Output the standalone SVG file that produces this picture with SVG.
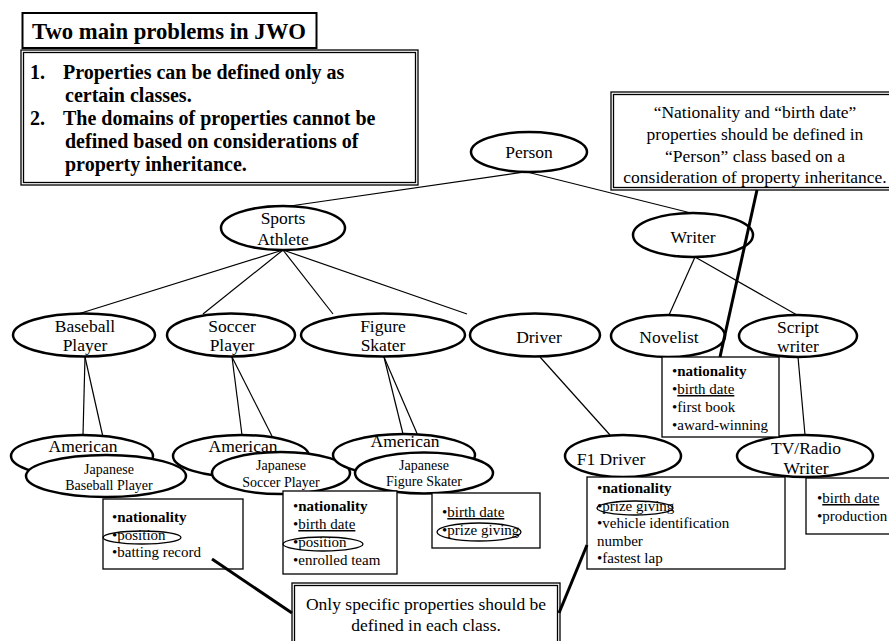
<svg xmlns="http://www.w3.org/2000/svg" width="889" height="641" viewBox="0 0 889 641">
<style>
text{font-family:"Liberation Serif","Times New Roman",serif;fill:#000}
.node{fill:#fff;stroke:#000;stroke-width:2.5}
.lbl{font-size:17.5px;text-anchor:middle}
.sm{font-size:14px;text-anchor:middle}
.edge{stroke:#000;stroke-width:1.2;fill:none}
.call{stroke:#000;stroke-width:3;fill:none}
.box{fill:#fff;stroke:#000;stroke-width:1.3}
.prop{font-size:15px}
.mark{fill:none;stroke:#000;stroke-width:1.3}
.dbl{fill:#fff;stroke:#000;stroke-width:1.3}
.dbli{fill:none;stroke:#000;stroke-width:1.3}
.b{font-weight:bold}
.u{text-decoration:underline}
.note{font-size:17.5px;text-anchor:middle}
</style>
<rect width="889" height="641" fill="#fff"/>

<g id="title">
<rect x="22.5" y="13" width="294" height="35" fill="#fff" stroke="#000" stroke-width="2"/>
<text x="32" y="39" font-size="22.7" font-weight="bold">Two main problems in JWO</text>
</g>

<g id="problems">
<rect class="dbl" x="21" y="50" width="397" height="135"/>
<rect class="dbli" x="23.5" y="52.5" width="392" height="130"/>
<text font-size="20" font-weight="bold">
<tspan x="30" y="79">1.</tspan><tspan x="63" y="79">Properties can be defined only as</tspan>
<tspan x="65" y="102">certain classes.</tspan>
<tspan x="30" y="125">2.</tspan><tspan x="63" y="125">The domains of properties cannot be</tspan>
<tspan x="65" y="148">defined based on  considerations of</tspan>
<tspan x="65" y="171">property inheritance.</tspan>
</text>
</g>

<g id="note-person">
<rect class="dbl" x="611" y="92" width="290" height="98"/>
<rect class="dbli" x="613.5" y="94.5" width="290" height="93"/>
<text class="note" x="755" y="118">“Nationality and “birth date”</text>
<text class="note" x="755" y="140">properties should be defined in</text>
<text class="note" x="755" y="162">“Person” class based on a</text>
<text class="note" x="755" y="183">consideration of property inheritance.</text>
</g>

<g id="note-specific">
<rect class="dbl" x="292" y="583" width="268" height="70"/>
<rect class="dbli" x="294.5" y="585.5" width="263" height="65"/>
<text class="note" x="426" y="610">Only specific properties should be</text>
<text class="note" x="426" y="631">defined in each class.</text>
</g>

<g id="connectors">
<line class="edge" x1="525" y1="172" x2="290" y2="206"/>
<line class="edge" x1="527" y1="172" x2="691" y2="213"/>
<line class="edge" x1="283" y1="250" x2="78" y2="314"/>
<line class="edge" x1="283" y1="250" x2="203" y2="314"/>
<line class="edge" x1="283" y1="250" x2="333" y2="314"/>
<line class="edge" x1="283" y1="250" x2="467" y2="314"/>
<line class="edge" x1="695" y1="257" x2="669" y2="315"/>
<line class="edge" x1="695" y1="257" x2="797" y2="315"/>
<line class="edge" x1="85" y1="357" x2="83" y2="435"/>
<line class="edge" x1="85" y1="357" x2="107" y2="455"/>
<line class="edge" x1="232" y1="357" x2="242" y2="435"/>
<line class="edge" x1="232" y1="357" x2="280" y2="452"/>
<line class="edge" x1="384" y1="357" x2="403" y2="434"/>
<line class="edge" x1="384" y1="357" x2="425" y2="452"/>
<line class="edge" x1="540" y1="357" x2="610" y2="435"/>
<line class="edge" x1="798" y1="357" x2="805" y2="435"/>
</g>

<g id="person"><ellipse class="node" cx="529" cy="152" rx="58" ry="20"/><text class="lbl" x="529" y="158">Person</text></g>
<g id="sports-athlete"><ellipse class="node" cx="283" cy="228" rx="62" ry="22"/><text class="lbl" x="283" y="224">Sports</text><text class="lbl" x="283" y="245">Athlete</text></g>
<g id="writer"><ellipse class="node" cx="693" cy="235" rx="60" ry="22"/><text class="lbl" x="693" y="243">Writer</text></g>
<g id="baseball-player"><ellipse class="node" cx="84" cy="335" rx="71" ry="21.5"/><text class="lbl" x="85" y="332">Baseball</text><text class="lbl" x="85" y="351">Player</text></g>
<g id="soccer-player"><ellipse class="node" cx="231" cy="335" rx="64" ry="21.5"/><text class="lbl" x="232" y="332">Soccer</text><text class="lbl" x="232" y="351">Player</text></g>
<g id="figure-skater"><ellipse class="node" cx="383" cy="335" rx="82" ry="21.5"/><text class="lbl" x="383" y="332">Figure</text><text class="lbl" x="383" y="351">Skater</text></g>
<g id="driver"><ellipse class="node" cx="535" cy="335" rx="65" ry="21.5"/><text class="lbl" x="539" y="343">Driver</text></g>
<g id="novelist"><ellipse class="node" cx="668" cy="336" rx="57" ry="21"/><text class="lbl" x="669" y="343">Novelist</text></g>
<g id="script-writer"><ellipse class="node" cx="798" cy="336" rx="59" ry="21"/><text class="lbl" x="798" y="333">Script</text><text class="lbl" x="798" y="352">writer</text></g>

<g id="american-baseball"><ellipse class="node" cx="82" cy="456" rx="71" ry="21"/><text class="lbl" x="83" y="452">American</text></g>
<g id="japanese-baseball"><ellipse class="node" cx="106" cy="476" rx="80" ry="21"/><text class="sm" x="109" y="474">Japanese</text><text class="sm" x="109" y="490">Baseball Player</text></g>
<g id="american-soccer"><ellipse class="node" cx="241" cy="456" rx="68" ry="21"/><text class="lbl" x="243" y="452">American</text></g>
<g id="japanese-soccer"><ellipse class="node" cx="281" cy="473" rx="69" ry="21"/><text class="sm" x="281" y="470">Japanese</text><text class="sm" x="281" y="487">Soccer Player</text></g>
<g id="american-figure"><ellipse class="node" cx="404" cy="455" rx="71" ry="21"/><text class="lbl" x="405" y="447">American</text></g>
<g id="japanese-figure"><ellipse class="node" cx="424" cy="473" rx="69" ry="20.5"/><text class="sm" x="424" y="470">Japanese</text><text class="sm" x="424" y="486">Figure Skater</text></g>
<g id="f1-driver"><ellipse class="node" cx="623" cy="456" rx="58" ry="21"/><text class="lbl" x="611" y="465">F1 Driver</text></g>
<g id="tv-radio-writer"><ellipse class="node" cx="805" cy="456" rx="68" ry="21"/><text class="lbl" x="806" y="454">TV/Radio</text><text class="lbl" x="806" y="474">Writer</text></g>

<g id="props-novelist">
<rect class="box" x="662" y="357" width="117" height="80"/>
<text class="prop"><tspan x="672" y="376">•<tspan class="b">nationality</tspan></tspan><tspan x="672" y="394">•<tspan class="u">birth date</tspan></tspan><tspan x="672" y="412">•first book</tspan><tspan x="672" y="430">•award-winning</tspan></text>
</g>
<g id="props-tvradio">
<rect class="box" x="806" y="478" width="90" height="56"/>
<text class="prop"><tspan x="817" y="503">•<tspan class="u">birth date</tspan></tspan><tspan x="817" y="521">•production</tspan></text>
</g>
<g id="props-f1">
<rect class="box" x="587" y="477" width="198" height="92"/>
<text class="prop"><tspan x="597" y="493">•<tspan class="b">nationality</tspan></tspan><tspan x="597" y="511">•prize giving</tspan><tspan x="597" y="528">•vehicle identification</tspan><tspan x="597" y="546">number</tspan><tspan x="597" y="563">•fastest lap</tspan></text>
<ellipse class="mark" cx="635" cy="508" rx="38" ry="7"/>
</g>
<g id="props-japanese-baseball">
<rect class="box" x="103" y="499" width="140" height="70"/>
<text class="prop"><tspan x="112" y="522">•<tspan class="b">nationality</tspan></tspan><tspan x="112" y="540">•position</tspan><tspan x="112" y="557">•batting record</tspan></text>
<ellipse class="mark" cx="142" cy="537.5" rx="39" ry="6.5"/>
</g>
<g id="props-japanese-soccer">
<rect class="box" x="283" y="491" width="114" height="83"/>
<text class="prop"><tspan x="293" y="511">•<tspan class="b">nationality</tspan></tspan><tspan x="293" y="529">•<tspan class="u">birth date</tspan></tspan><tspan x="293" y="547">•position</tspan><tspan x="293" y="565">•enrolled team</tspan></text>
<ellipse class="mark" cx="323" cy="544" rx="40" ry="7"/>
</g>
<g id="props-japanese-figure">
<rect class="box" x="432" y="493" width="108" height="55"/>
<text class="prop"><tspan x="442" y="517">•<tspan class="u">birth date</tspan></tspan><tspan x="442" y="535">•prize giving</tspan></text>
<ellipse class="mark" cx="479" cy="532" rx="42" ry="9"/>
</g>

<g id="callout-connectors">
<line class="call" x1="757" y1="190" x2="720" y2="357"/>
<line class="call" x1="587" y1="545" x2="559" y2="613"/>
<line class="call" x1="212" y1="559" x2="292" y2="613"/>
</g>
</svg>
